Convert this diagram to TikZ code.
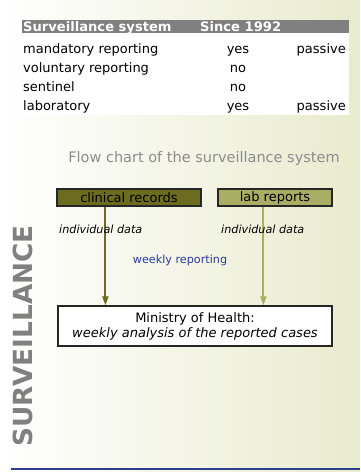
\documentclass[tikz,border=0pt]{standalone}
\usepackage{fontspec}
\setmainfont{DejaVu Sans}
\usepackage{xcolor}
\usetikzlibrary{arrows.meta,positioning}
\definecolor{BgRight}{RGB}{233,235,206}
\definecolor{HeadGray}{RGB}{128,128,128}
\definecolor{OliveDark}{RGB}{108,108,32}
\definecolor{OliveLight}{RGB}{170,174,100}
\definecolor{ReportBlue}{RGB}{42,58,152}
\definecolor{RuleBlue}{RGB}{46,62,140}
\definecolor{TitleGray}{RGB}{140,140,140}

\begin{document}
\begin{tikzpicture}[x=1pt,y=-1pt,
        cell/.style={anchor=base west,inner sep=0pt,
                     font=\fontsize{13}{15}\selectfont},
        mid/.style={cell,anchor=base},
        last/.style={cell,anchor=base east},
        head/.style={cell,text=white,font=\fontsize{13.1}{15}\selectfont\bfseries},
        source/.style={draw=black!85,line width=1.2pt,inner sep=0pt,
                       minimum height=17pt,font=\fontsize{13}{15}\selectfont},
        feed/.style={-{Triangle[length=9pt,width=6pt]},line width=2pt},
        note/.style={font=\fontsize{11.2}{13}\selectfont\itshape,inner sep=0pt}
      ]
        \shade[left color=white,right color=BgRight] (0,0) rectangle (360,472);
        \useasboundingbox (0,0) rectangle (360,472);
        \fill[HeadGray] (22,20) rectangle (349,33);
        \fill[white] (22,33) rectangle (349,115);
        \node[head] (hsys) at (23,31) {Surveillance system};
        \node[head] (hsince) at (200,31) {Since 1992};
        \node[cell] (mand) at (23,53.5) {mandatory reporting};
        \node[mid] (mandy) at (238,53.5) {yes};
        \node[last] (mandp) at (346,53.5) {passive};
        \node[cell] (volu) at (23,72.5) {voluntary reporting};
        \node[mid] (voluy) at (238,72.5) {no};
        \node[cell] (sent) at (23,91.5) {sentinel};
        \node[mid] (senty) at (238,91.5) {no};
        \node[cell] (labo) at (23,110.5) {laboratory};
        \node[mid] (laboy) at (238,110.5) {yes};
        \node[last] (labop) at (346,110.5) {passive};
        \node[text=TitleGray,font=\fontsize{14.5}{17}\selectfont,inner sep=0pt]
          (title) at (204,158) {Flow chart of the surveillance system};
        \node[source,fill=OliveDark,minimum width=144pt] (clin) at (129,197.5)
          {clinical records};
        \node[source,fill=OliveLight,minimum width=114pt] (lab) at (275,197.5)
          {lab reports};
        \node[draw=black!85,fill=white,line width=1.2pt,minimum width=274pt,
              minimum height=40pt,align=center,inner sep=0pt,
              font=\fontsize{13}{15}\selectfont] (ministry) at (195,326)
          {Ministry of Health:\\ \itshape weekly analysis of the reported cases};
        \draw[feed,OliveDark] ([xshift=49pt]clin.south west)
          -- ([xshift=48pt]ministry.north west);
        \draw[feed,OliveLight] ([xshift=46pt]lab.south west)
          -- ([xshift=206pt]ministry.north west);
        \node[note,anchor=west] (ind1) at (59,229) {individual data};
        \node[note,anchor=west] (ind2) at (221,229) {individual data};
        \node[text=ReportBlue,font=\fontsize{11.2}{13}\selectfont,inner sep=0pt]
          (weekly) at (180,260) {weekly reporting};
        \node[rotate=90,text=HeadGray,inner sep=0pt,
              font=\fontsize{26.3}{30}\selectfont\bfseries] (side) at (22.5,336)
          {SURVEILLANCE};
        \draw[RuleBlue,line width=1.8pt] (11,469) -- (360,469);
      \end{tikzpicture}
\end{document}
